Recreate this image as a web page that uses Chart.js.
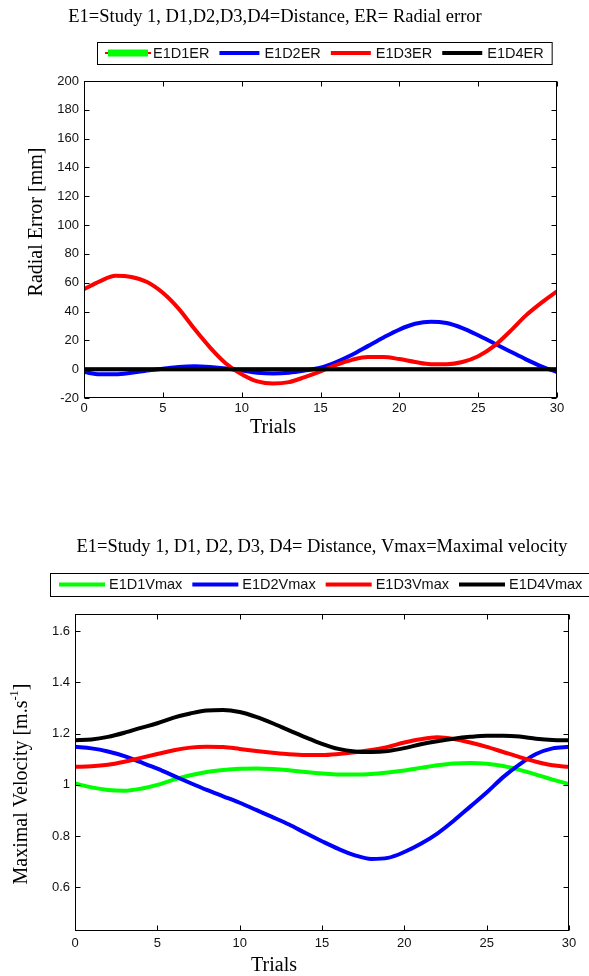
<!DOCTYPE html>
<html>
<head>
<meta charset="utf-8">
<script src="https://cdn.jsdelivr.net/npm/chart.js@4.4.0/dist/chart.umd.min.js"></script>
<style>
  html, body { margin: 0; padding: 0; background: #fff; overflow: hidden; }
  canvas { display: block; }
</style>
</head>
<body>
<canvas id="errChart" width="589" height="488"></canvas>
<canvas id="velChart" width="589" height="488"></canvas>
<script>
// x categories (trial numbers) and tick labels
const trials = [0,1,2,3,4,5,6,7,8,9,10,11,12,13,14,15,16,17,18,19,20,21,22,23,24,25,26,27,28,29,30];
const xTicks = [0, 5, 10, 15, 20, 25, 30];
const errTicks = [-20, 0, 20, 40, 60, 80, 100, 120, 140, 160, 180, 200];
const velTicks = [0.6, 0.8, 1, 1.2, 1.4, 1.6];

// radial error [mm]
const errLabels = ['E1D1ER', 'E1D2ER', 'E1D3ER', 'E1D4ER'];
const e1d1ER = [0,0,0,0,0,0,0,0,0,0,0,0,0,0,0,0,0,0,0,0,0,0,0,0,0,0,0,0,0,0,0];
const e1d2ER = [-2,-3.5,-3.5,-2.5,-1,0.3,1.5,2,1.5,0.5,-1,-2.5,-3,-2.5,-1,1,5,10,16,22,27.5,31.5,33,32,28.5,23.5,18,12.5,7,2,-2];
const e1d3ER = [55.5,61,64.8,64,60.5,53,42,28,15,4,-3.5,-8.5,-10,-9,-5.5,-1.5,3,6.5,8.5,8.5,7,5,3.5,3.5,5,9,16,26,37,46,54];
const e1d4ER = [0,0,0,0,0,0,0,0,0,0,0,0,0,0,0,0,0,0,0,0,0,0,0,0,0,0,0,0,0,0,0];

// maximal velocity [m/s]
const velLabels = ['E1D1Vmax', 'E1D2Vmax', 'E1D3Vmax', 'E1D4Vmax'];
const e1d1V = [1.005,0.99,0.98,0.977,0.985,1.0,1.02,1.037,1.05,1.058,1.063,1.064,1.062,1.057,1.05,1.044,1.04,1.04,1.042,1.048,1.056,1.066,1.076,1.083,1.085,1.082,1.073,1.058,1.04,1.02,1.003];
const e1d2V = [1.148,1.142,1.13,1.112,1.088,1.063,1.035,1.007,0.98,0.955,0.93,0.902,0.874,0.845,0.812,0.78,0.75,0.725,0.711,0.715,0.738,0.77,0.81,0.86,0.915,0.97,1.03,1.08,1.12,1.142,1.148];
const e1d3V = [1.07,1.072,1.078,1.09,1.105,1.12,1.135,1.145,1.148,1.147,1.14,1.132,1.125,1.119,1.116,1.116,1.12,1.127,1.136,1.148,1.165,1.178,1.185,1.179,1.165,1.148,1.128,1.108,1.09,1.076,1.07];
const e1d4V = [1.174,1.177,1.187,1.203,1.222,1.24,1.262,1.278,1.29,1.292,1.284,1.265,1.24,1.212,1.185,1.16,1.14,1.13,1.128,1.132,1.143,1.158,1.17,1.18,1.187,1.191,1.191,1.188,1.18,1.175,1.174];

const colors = ['#00ff00', '#0000ff', '#ff0000', '#000000'];

Chart.defaults.font.family = '"Liberation Sans", Arial, sans-serif';
Chart.defaults.color = '#000';

function points(vals) {
  return trials.map((t, i) => ({ x: t, y: vals[i] }));
}

function series(labels, arrays) {
  return arrays.map((vals, i) => ({
    label: labels[i],
    data: points(vals),
    borderColor: colors[i],
    backgroundColor: colors[i],
    order: 4 - i
  }));
}

function drawTextParts(ctx, parts, cx, cy, size) {
  // measure first so the whole string is centred
  let w = 0;
  parts.forEach(p => {
    ctx.font = (p.sup ? size * 0.62 : size) + 'px "Liberation Serif"';
    p.w = ctx.measureText(p.t).width;
    w += p.w;
  });
  let x = cx - w / 2;
  parts.forEach(p => {
    ctx.font = (p.sup ? size * 0.62 : size) + 'px "Liberation Serif"';
    ctx.fillText(p.t, x, p.sup ? cy - size * 0.38 : cy);
    x += p.w;
  });
}

// matlab style box, inward ticks, titles and boxed legend
const frame = {
  id: 'frame',
  afterDatasetsDraw(chart, args, o) {
    const { ctx, chartArea: a, scales: { x, y } } = chart;
    ctx.save();
    ctx.strokeStyle = '#000';
    ctx.lineWidth = 1;
    const L = Math.round(a.left) + 0.5, R = Math.round(a.right) - 0.5;
    const T = Math.round(a.top) + 0.5, B = Math.round(a.bottom) - 0.5;
    ctx.strokeRect(L, T, R - L, B - T);
    ctx.beginPath();
    x.ticks.forEach(t => {
      const px = Math.round(x.getPixelForValue(t.value)) + 0.5;
      ctx.moveTo(px, B); ctx.lineTo(px, B - 5);
      ctx.moveTo(px, T); ctx.lineTo(px, T + 5);
    });
    y.ticks.forEach(t => {
      const py = Math.round(y.getPixelForValue(t.value)) + 0.5;
      ctx.moveTo(L, py); ctx.lineTo(L + 5, py);
      ctx.moveTo(R, py); ctx.lineTo(R - 5, py);
    });
    ctx.stroke();

    ctx.fillStyle = '#000';
    ctx.textAlign = 'left';
    ctx.textBaseline = 'middle';
    drawTextParts(ctx, [{ t: o.title }], o.titleX, o.titleY, 18.5);
    drawTextParts(ctx, [{ t: 'Trials' }], o.xTitleX, o.xTitleY, 20);
    ctx.save();
    ctx.translate(o.yTitleX, o.yTitleY);
    ctx.rotate(-Math.PI / 2);
    drawTextParts(ctx, o.yTitle, 0, 0, 20);
    ctx.restore();

    // legend
    const lg = o.legend;
    ctx.font = '14.5px "Liberation Sans"';
    let lx = lg.x + lg.padL;
    const cy = lg.y + lg.h / 2;
    chart.data.datasets.forEach((ds, i) => {
      if (lg.stub === i) {
        ctx.strokeStyle = '#ff0000';
        ctx.lineWidth = 2;
        ctx.beginPath(); ctx.moveTo(lx - 3, cy); ctx.lineTo(lx + lg.sampleW + 3, cy); ctx.stroke();
      }
      ctx.strokeStyle = ds.borderColor;
      ctx.lineWidth = lg.stub === i ? 7 : 4;
      ctx.beginPath(); ctx.moveTo(lx, cy); ctx.lineTo(lx + lg.sampleW, cy); ctx.stroke();
      lx += lg.sampleW + lg.gap;
      ctx.fillStyle = '#111';
      ctx.fillText(ds.label, lx, cy + 0.5);
      lx += ctx.measureText(ds.label).width + lg.itemGap;
    });
    ctx.strokeStyle = '#000';
    ctx.lineWidth = 1;
    ctx.strokeRect(lg.x + 0.5, lg.y + 0.5, lx - lg.itemGap + lg.padR - lg.x, lg.h);
    ctx.restore();
  }
};

function makeChart(id, datasets, c) {
  const tickFont = { size: 13, family: '"Liberation Sans", Arial, sans-serif' };
  return new Chart(document.getElementById(id), {
    type: 'line',
    data: { datasets },
    options: {
      responsive: false,
      animation: false,
      layout: { padding: { top: c.top, right: c.right, left: 0, bottom: 0 } },
      elements: {
        point: { radius: 0 },
        line: { borderWidth: 4, cubicInterpolationMode: 'monotone' }
      },
      plugins: { legend: { display: false }, tooltip: { enabled: false }, frame: c.frame },
      scales: {
        x: {
          type: 'linear', min: 0, max: 30,
          afterBuildTicks: s => { s.ticks = xTicks.map(v => ({ value: v })); },
          afterFit: s => { s.height = c.xh; },
          grid: { display: false, drawTicks: false },
          border: { display: false },
          ticks: { padding: c.xPad, font: tickFont, color: '#111', maxRotation: 0, autoSkip: false }
        },
        y: {
          type: 'linear', min: c.yMin, max: c.yMax,
          afterBuildTicks: s => { s.ticks = c.yTicks.map(v => ({ value: v })); },
          afterFit: s => { s.width = c.yw; },
          grid: { display: false, drawTicks: false },
          border: { display: false },
          ticks: { padding: 5, font: tickFont, color: '#111', autoSkip: false,
                   callback: v => String(Math.round(v * 10) / 10) }
        }
      }
    },
    plugins: [frame]
  });
}

makeChart('errChart', series(errLabels, [e1d1ER, e1d2ER, e1d3ER, e1d4ER]), {
  top: 81, right: 32, xh: 90, yw: 84, xPad: 3,
  yMin: -20, yMax: 200, yTicks: errTicks,
  frame: {
    title: 'E1=Study 1, D1,D2,D3,D4=Distance, ER= Radial error',
    titleX: 275, titleY: 17,
    xTitleX: 273, xTitleY: 428,
    yTitle: [{ t: 'Radial Error [mm]' }], yTitleX: 37, yTitleY: 222,
    legend: { x: 97, y: 42, h: 22, padL: 11, sampleW: 40, gap: 5, itemGap: 10, padR: 8, stub: 0 }
  }
});

makeChart('velChart', series(velLabels, [e1d1V, e1d2V, e1d3V, e1d4V]), {
  top: 126, right: 20, xh: 45, yw: 75, xPad: 5,
  yMin: 0.43, yMax: 1.666, yTicks: velTicks,
  frame: {
    title: 'E1=Study 1, D1, D2, D3, D4= Distance, Vmax=Maximal velocity',
    titleX: 322, titleY: 59,
    xTitleX: 274, xTitleY: 478,
    yTitle: [{ t: 'Maximal Velocity [m.s' }, { t: '-1', sup: true }, { t: ']' }], yTitleX: 22, yTitleY: 296,
    legend: { x: 50, y: 85, h: 23, padL: 9, sampleW: 46, gap: 4, itemGap: 10, padR: 8, stub: -1 }
  }
});
</script>
</body>
</html>
